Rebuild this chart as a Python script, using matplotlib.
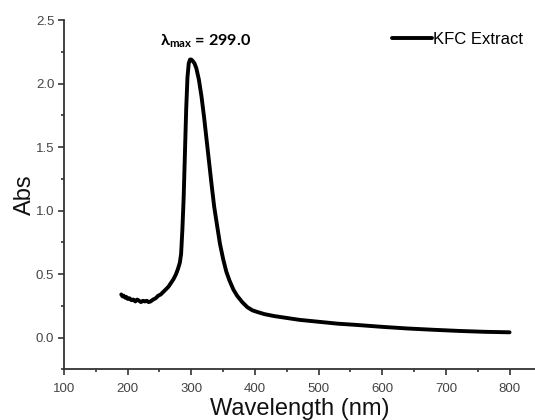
import matplotlib
matplotlib.use('Agg')
import matplotlib.pyplot as plt
from matplotlib.ticker import MultipleLocator

# Spectrum (wavelength in nm, absorbance)
wavelength = [190, 192, 194, 196, 198, 200, 203, 206, 209, 212, 215, 218, 221,
              224, 227, 230, 233, 236, 240, 244, 248, 252, 256, 260, 264, 268,
              272, 276, 279, 282, 284, 286, 288, 290, 292, 294, 296, 298, 300,
              302, 305, 308, 312, 316, 320, 324, 328, 332, 336, 340, 345, 350,
              355, 360, 366, 372, 380, 388, 396, 405, 415, 430, 450, 470, 500,
              530, 560, 600, 640, 680, 720, 760, 800]
absorbance = [0.34, 0.325, 0.33, 0.315, 0.32, 0.305, 0.31, 0.295, 0.30, 0.285,
              0.30, 0.29, 0.28, 0.29, 0.285, 0.29, 0.28, 0.285, 0.30, 0.31,
              0.33, 0.34, 0.36, 0.38, 0.40, 0.43, 0.46, 0.50, 0.54, 0.59, 0.66,
              0.85, 1.10, 1.45, 1.80, 2.05, 2.16, 2.19, 2.19, 2.18, 2.16, 2.12,
              2.03, 1.90, 1.74, 1.56, 1.38, 1.20, 1.03, 0.90, 0.74, 0.62, 0.52,
              0.45, 0.38, 0.33, 0.28, 0.24, 0.215, 0.20, 0.185, 0.17, 0.155,
              0.14, 0.125, 0.11, 0.10, 0.085, 0.072, 0.062, 0.053, 0.046, 0.042]

peak_label = 'λ$_{\\mathrm{max}}$ = 299.0'
series_name = 'KFC Extract'

plt.rcParams['font.family'] = ['Liberation Sans', 'DejaVu Sans']
plt.rcParams['mathtext.fontset'] = 'custom'
plt.rcParams['mathtext.rm'] = 'Lato:bold'
plt.rcParams['mathtext.it'] = 'Lato:bold'
plt.rcParams['mathtext.bf'] = 'Lato:bold'

fig = plt.figure(figsize=(5.35, 4.2), dpi=100)
ax = fig.add_axes([0.1196, 0.1205, 0.8804, 0.8315])

ax.plot(wavelength, absorbance, color='black', lw=2.8, label=series_name,
        solid_joinstyle='round', solid_capstyle='round')

ax.set_xlim(100, 840)
ax.set_ylim(-0.25, 2.5)
ax.xaxis.set_minor_locator(MultipleLocator(50))
ax.yaxis.set_major_locator(MultipleLocator(0.5))
ax.yaxis.set_minor_locator(MultipleLocator(0.25))
ax.set_xticks([100, 200, 300, 400, 500, 600, 700, 800])

for side in ['top', 'right']:
    ax.spines[side].set_visible(False)
for side in ['left', 'bottom']:
    ax.spines[side].set_color('#333333')
    ax.spines[side].set_linewidth(1.3)

ax.tick_params(which='major', direction='out', length=4, width=1.2,
               color='#333333', labelsize=9.5, labelcolor='#444444', pad=3)
ax.tick_params(axis='x', which='major', pad=6)
ax.tick_params(which='minor', direction='out', length=2.5, width=1.2,
               color='#333333')

ax.set_xlabel('Wavelength (nm)', fontsize=17, color='#111111', labelpad=2)
ax.set_ylabel('Abs', fontsize=17, color='#111111', labelpad=0)

ax.text(322, 2.33, peak_label, ha='center', va='center', fontsize=11.7,
        family=['Lato', 'DejaVu Sans'], weight='bold')

ax.legend(loc='upper right', bbox_to_anchor=(1.0, 1.0), frameon=False,
          fontsize=12, handlelength=2.4, handletextpad=0.1,
          borderaxespad=0.3)

fig.savefig('out.png', dpi=100)
